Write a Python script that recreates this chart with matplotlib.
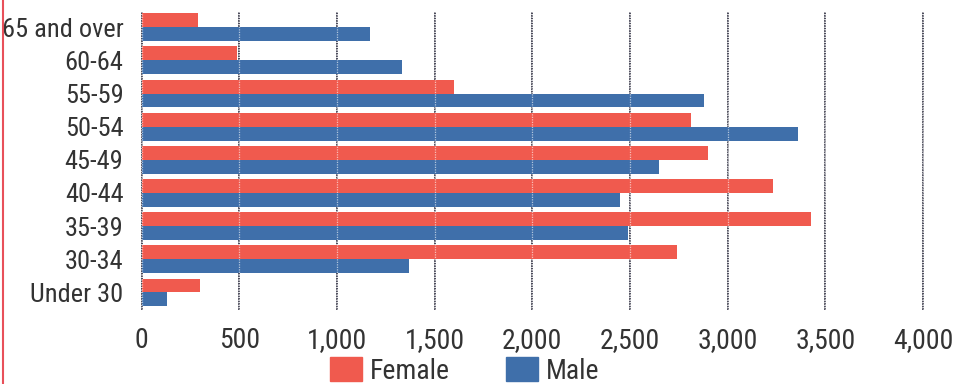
import numpy as np
import matplotlib.pyplot as plt
from matplotlib.patches import Patch
from matplotlib.lines import Line2D

plt.rcParams.update({
    "font.family": ["Liberation Sans Narrow", "Roboto Condensed", "Roboto", "DejaVu Sans"],
    "font.size": 20,
})

# ---- data ----
groups = ["Under 30", "30-34", "35-39", "40-44", "45-49",
          "50-54", "55-59", "60-64", "65 and over"]
female = [300, 2740, 3425, 3230, 2900, 2810, 1600, 490, 290]
male = [130, 1370, 2490, 2450, 2650, 3360, 2880, 1335, 1170]
ticks = [0, 500, 1000, 1500, 2000, 2500, 3000, 3500, 4000]

FEMALE_C = "#F05A4E"
MALE_C = "#3F6FAA"
GRID_C = "#3c3c4c"

fig = plt.figure(figsize=(9.6, 3.84), dpi=100)
ax = fig.add_axes([141.5 / 960, 1 - 310 / 384, (923 - 141.5) / 960, 298 / 384])

y = np.arange(len(groups))
h = 0.42
ax.barh(y + h / 2, female, height=h, color=FEMALE_C, zorder=2, label="Female")
ax.barh(y - h / 2, male, height=h, color=MALE_C, zorder=2, label="Male")

# dark dotted grid behind, pale line over the bars
for t in ticks:
    ax.axvline(t, color=GRID_C, lw=1.3, ls=(0, (1, 0.4)), zorder=1, clip_on=False)
    ax.axvline(t, color="white", lw=0.9, ls=(0, (1, 1)), alpha=0.6, zorder=3, clip_on=False)

ax.set_xlim(0, 4000)
ax.set_ylim(-0.53, 8.46)
ax.set_xticks(ticks)
ax.set_xticklabels([f"{t:,}" for t in ticks], color="#333333")
ax.set_yticks(y)
ax.set_yticklabels(groups, color="#333333", fontsize=19)
ax.tick_params(length=0)
ax.tick_params(axis="x", pad=12)
ax.tick_params(axis="y", pad=13)
for s in ax.spines.values():
    s.set_visible(False)

handles = [Patch(color=FEMALE_C, label="Female"), Patch(color=MALE_C, label="Male")]
fig.legend(handles=handles, loc="center", bbox_to_anchor=(0.484, 1 - 371 / 384),
           ncol=2, frameon=False, handlelength=1.15, handleheight=0.9,
           handletextpad=0.3, columnspacing=2.0, labelcolor="#333333",
           borderpad=0.1)

# red page edge on the left
fig.add_artist(Line2D([2.5 / 960, 2.5 / 960], [0, 1], color="#E8505A", lw=1.5))

fig.savefig("out.png", dpi=100)
